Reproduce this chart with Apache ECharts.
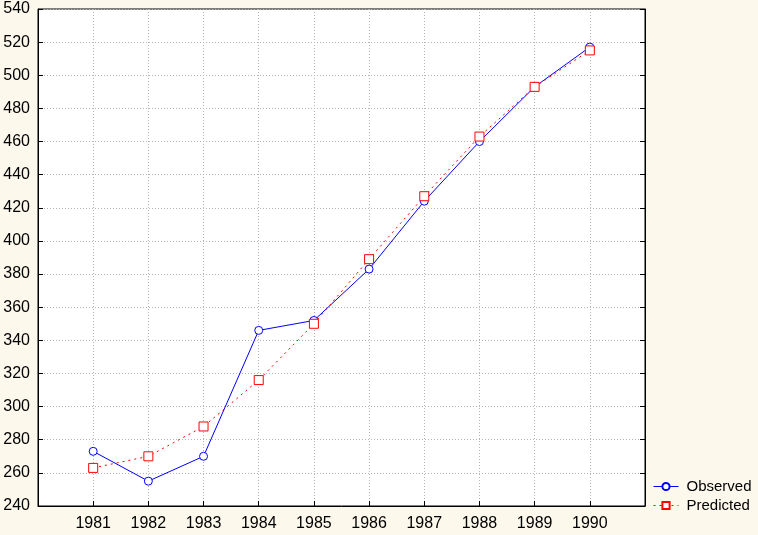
<!DOCTYPE html>
<html>
<head>
<meta charset="utf-8">
<script src="https://cdn.jsdelivr.net/npm/echarts@6/dist/echarts.min.js"></script>
<style>
  html, body { margin: 0; padding: 0; background: #fcf8ec; }
</style>
</head>
<body>
<div id="chart" style="width: 758px; height: 535px"></div>
<script>
// 数据
var years = ["1981", "1982", "1983", "1984", "1985", "1986", "1987", "1988", "1989", "1990"];
var observed = [273, 255, 270, 346, 352, 383, 424, 460, 493, 517];
var predicted = [263, 270, 288, 316, 350, 389, 427, 463, 493, 515];

// 两端留空位
var cats = [" "].concat(years).concat(["  "]);

var myChart = echarts.init(document.getElementById("chart"));
var font = "Liberation Sans, Arial, sans-serif";

var option = {
  backgroundColor: "#fcf8ec",
  animation: false,
  grid: {
    left: 38,
    top: 9,
    right: 113,
    bottom: 29,
    show: true,
    backgroundColor: "#ffffff",
    borderColor: "#000",
    borderWidth: 1,
  },
  legend: {
    orient: "vertical",
    left: 653,
    top: 479,
    padding: 0,
    itemWidth: 25,
    itemHeight: 9,
    itemGap: 4,
    lineStyle: { width: 1 },
    textStyle: { fontFamily: font, fontSize: 15, color: "#000", padding: [0, 0, 0, 3] },
    data: ["Observed", "Predicted"],
  },
  xAxis: [
    {
      type: "category",
      boundaryGap: false,
      data: cats,
      axisLine: { lineStyle: { color: "#000" } },
      axisTick: { show: true, inside: true, length: 5, interval: 0, lineStyle: { color: "#000" } },
      axisLabel: { interval: 0, margin: 10, fontFamily: font, fontSize: 16, color: "#000" },
      splitLine: {
        show: true,
        interval: function (i) {
          return i > 0 && i < cats.length - 1;
        },
        lineStyle: { color: "#b4b4b4", type: [1, 2] },
      },
    },
  ],
  yAxis: [
    {
      type: "value",
      min: 240,
      max: 540,
      interval: 20,
      axisLine: { show: true, lineStyle: { color: "#000" } },
      axisTick: { show: true, inside: true, length: 5, lineStyle: { color: "#000" } },
      axisLabel: { margin: 8, fontFamily: font, fontSize: 16, color: "#000" },
      splitLine: { show: true, lineStyle: { color: "#b4b4b4", type: [1, 2] } },
    },
    {
      type: "value",
      position: "right",
      min: 240,
      max: 540,
      interval: 20,
      axisLine: { show: true, lineStyle: { color: "#000" } },
      axisTick: { show: true, inside: true, length: 5, lineStyle: { color: "#000" } },
      axisLabel: { show: false },
      splitLine: { show: false },
    },
  ],
  series: [
    {
      name: "Observed",
      type: "line",
      symbol: "circle",
      symbolSize: 8,
      showAllSymbol: true,
      color: "#0000ff",
      itemStyle: { color: "#ffffff", borderColor: "#0000ff", borderWidth: 1 },
      lineStyle: { color: "#0000ff", width: 1 },
      data: years.map(function (y, i) { return [y, observed[i]]; }),
    },
    {
      name: "Predicted",
      type: "line",
      symbol: "rect",
      symbolSize: 9,
      showAllSymbol: true,
      color: "#ff0000",
      itemStyle: { color: "#ffffff", borderColor: "#ff0000", borderWidth: 1 },
      lineStyle: { color: "#ff0000", width: 1, type: [2, 4] },
      data: years.map(function (y, i) { return [y, predicted[i]]; }),
    },
  ],
};

myChart.setOption(option);
</script>
</body>
</html>
